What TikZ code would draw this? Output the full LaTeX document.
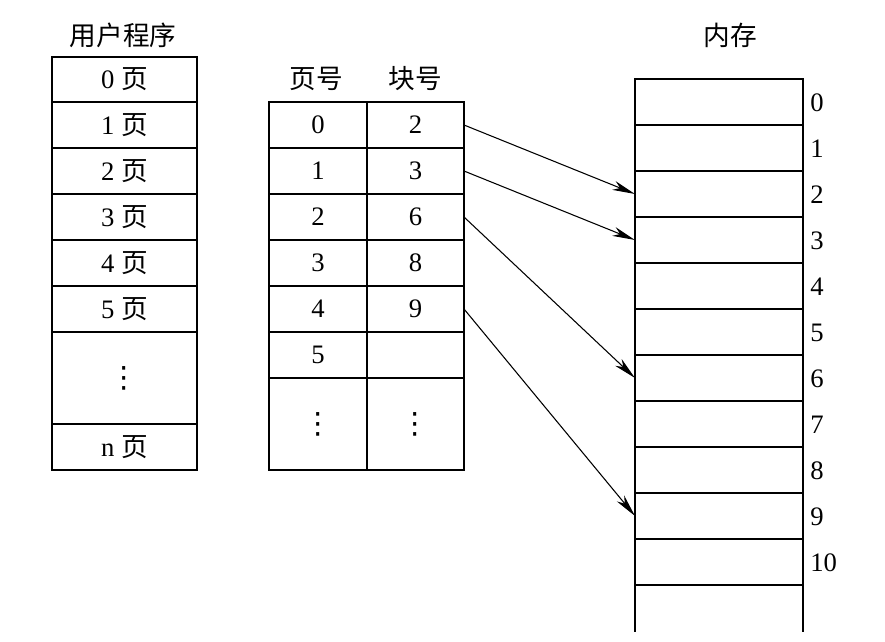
\documentclass[tikz,border=0pt]{standalone}
\usepackage{fontspec}
\setmainfont{Liberation Serif}
\newfontfamily\cjk{Noto Sans CJK SC}
\newfontfamily\dejavu{DejaVu Sans}
\usetikzlibrary{arrows.meta}
\newcommand\cellbox[6]{\node[cellst,minimum width={(#4-#2)*0.75pt},minimum height={(#5-#3)*0.75pt}] (#1) at ({(#2+#4)/2},{(#3+#5)/2}) {#6};}
\newcommand\vdts{{\dejavu\fontsize{22}{24}\selectfont ⋮}}
\begin{document}
\begin{tikzpicture}[x=0.75pt,y=-0.75pt,
  cellst/.style={draw,line width=1.5pt,inner sep=0pt,outer sep=0pt,font=\fontsize{20}{24}\selectfont},
  titlest/.style={inner sep=0pt,font=\fontsize{20}{24}\selectfont\cjk},
  numst/.style={inner sep=0pt,anchor=west,font=\fontsize{20}{24}\selectfont},
  arr/.style={line width=0.8pt,-{Stealth[length=17pt,width=7pt,inset=5pt]}},
  edge/.style={line width=1.5pt}]
\useasboundingbox (0,0) rectangle (885,642);
% titles
\node[titlest] (t1) at (123,35) {用户程序};
\node[titlest] (t2) at (316,79) {页号};
\node[titlest] (t3) at (415,79) {块号};
\node[titlest] (t4) at (730,35) {内存};
% user program
\cellbox{u0}{52}{57}{197}{102}{0 {\cjk 页}}
\cellbox{u1}{52}{102}{197}{148}{1 {\cjk 页}}
\cellbox{u2}{52}{148}{197}{194}{2 {\cjk 页}}
\cellbox{u3}{52}{194}{197}{240}{3 {\cjk 页}}
\cellbox{u4}{52}{240}{197}{286}{4 {\cjk 页}}
\cellbox{u5}{52}{286}{197}{332}{5 {\cjk 页}}
\cellbox{u6}{52}{332}{197}{424}{\vdts}
\cellbox{un}{52}{424}{197}{470}{n {\cjk 页}}
% page table
\cellbox{p0}{269}{102}{367}{148}{0}
\cellbox{b0}{367}{102}{464}{148}{2}
\cellbox{p1}{269}{148}{367}{194}{1}
\cellbox{b1}{367}{148}{464}{194}{3}
\cellbox{p2}{269}{194}{367}{240}{2}
\cellbox{b2}{367}{194}{464}{240}{6}
\cellbox{p3}{269}{240}{367}{286}{3}
\cellbox{b3}{367}{240}{464}{286}{8}
\cellbox{p4}{269}{286}{367}{332}{4}
\cellbox{b4}{367}{286}{464}{332}{9}
\cellbox{p5}{269}{332}{367}{378}{5}
\cellbox{b5}{367}{332}{464}{378}{}
\cellbox{p6}{269}{378}{367}{470}{\vdts}
\cellbox{b6}{367}{378}{464}{470}{\vdts}
% memory
\foreach \i in {0,...,10}{
  \pgfmathsetmacro\ya{79+46*\i}
  \pgfmathsetmacro\yb{79+46*(\i+1)}
  \cellbox{m\i}{635}{\ya}{803}{\yb}{}
  \node[numst] (ml\i) at (810,{(\ya+\yb)/2+1}) {\i};
}
\coordinate (mbl) at (635,632);
\coordinate (mbr) at (803,632);
\draw[edge] (m10.south west) -- (mbl);
\draw[edge] (m10.south east) -- (mbr);
% arrows
\draw[arr] (b0.east) -- (m2.west);
\draw[arr] (b1.east) -- (m3.west);
\draw[arr] (b2.east) -- (m6.west);
\draw[arr] (b4.east) -- (m9.west);
\end{tikzpicture}
\end{document}
